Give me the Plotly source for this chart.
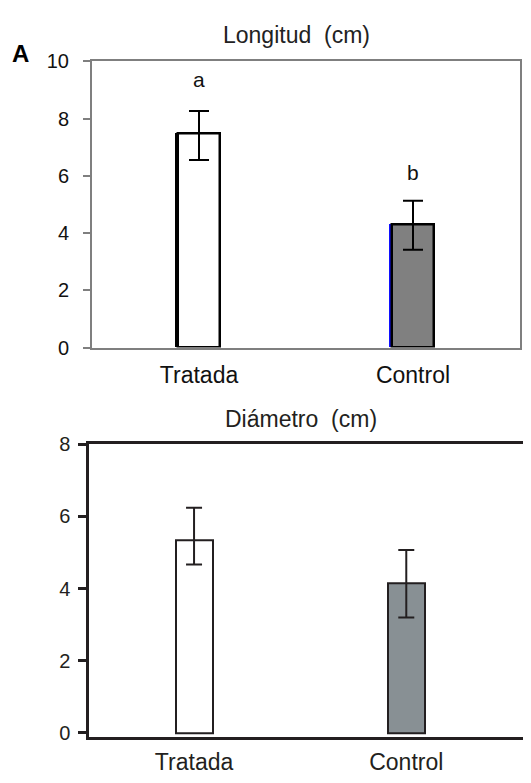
import plotly.graph_objects as go

categories = ["Tratada", "Control"]

# Longitud (cm)
long_vals = [7.47, 4.31]
long_err_plus = [0.80, 0.82]
long_err_minus = [0.92, 0.89]
long_letters = ["a", "b"]
long_letter_y = [9.36, 6.13]

# Diámetro (cm)
diam_vals = [5.35, 4.15]
diam_err_plus = [0.89, 0.92]
diam_err_minus = [0.68, 0.95]

# page is 531x783; the html body has an 8px margin, so the figure is 16px smaller
OFF = 8
W, H = 531 - 2 * OFF, 783 - 2 * OFF
FONT = "Liberation Sans, Arial, sans-serif"


def px(x):
    return (x - OFF) / W


def py(y):
    return 1 - (y - OFF) / H


fig = go.Figure()

# shadow edges (thick black left edge on Tratada, blue left edge on Control)
fig.add_trace(go.Bar(
    x=categories, y=long_vals, width=0.2, offset=-0.112,
    marker=dict(color=["#000000", "#1010ff"], line=dict(width=0)),
    xaxis="x", yaxis="y", showlegend=False, hoverinfo="skip",
))

fig.add_trace(go.Bar(
    x=categories, y=long_vals, width=0.2, offset=-0.1,
    marker=dict(color=["#ffffff", "#808080"], line=dict(color="#000000", width=2.5)),
    error_y=dict(type="data", symmetric=False, array=long_err_plus, arrayminus=long_err_minus,
                 color="#000000", thickness=2, width=10),
    xaxis="x", yaxis="y", showlegend=False,
))

fig.add_trace(go.Bar(
    x=categories, y=diam_vals, width=0.174,
    marker=dict(color=["#ffffff", "#889094"], line=dict(color="#231f20", width=2)),
    error_y=dict(type="data", symmetric=False, array=diam_err_plus, arrayminus=diam_err_minus,
                 color="#231f20", thickness=2, width=8),
    xaxis="x2", yaxis="y2", showlegend=False,
))

for c, t, yv in zip(categories, long_letters, long_letter_y):
    fig.add_annotation(x=c, y=yv, xref="x", yref="y", text=t, showarrow=False,
                       xanchor="center", yanchor="middle",
                       font=dict(family=FONT, size=21, color="#111111"))

fig.add_annotation(x=px(296), y=py(25), xref="paper", yref="paper", text="Longitud  (cm)",
                   showarrow=False, xanchor="center", yanchor="middle",
                   font=dict(family=FONT, size=23, color="#222222"))
fig.add_annotation(x=px(301), y=py(423), xref="paper", yref="paper", text="Diámetro  (cm)",
                   showarrow=False, xanchor="center", yanchor="middle",
                   font=dict(family=FONT, size=23, color="#231f20"))
fig.add_annotation(x=px(20), y=py(44), xref="paper", yref="paper", text="<b>A</b>",
                   showarrow=False, xanchor="center", yanchor="middle",
                   font=dict(family=FONT, size=24, color="#000000"))

gray = "#7f7f7f"
dark = "#231f20"

fig.update_layout(
    width=W, height=H, margin=dict(l=0, r=0, t=0, b=0),
    paper_bgcolor="white", plot_bgcolor="white",
    bargap=0, barmode="overlay",
    font=dict(family=FONT, color="#111111"),
    xaxis=dict(domain=[px(92), px(520)], anchor="y", type="category", range=[-0.5, 1.5],
               showline=True, linecolor=gray, linewidth=2, mirror=True, ticks="",
               showgrid=False, zeroline=False,
               tickfont=dict(family=FONT, size=23, color="#111111"), ticklabelstandoff=6),
    yaxis=dict(domain=[py(349), py(52)], anchor="x", range=[0, 10],
               tickvals=[0, 2, 4, 6, 8, 10], showline=True, linecolor=gray, linewidth=2,
               mirror=True, ticks="outside", ticklen=7, tickwidth=1.5, tickcolor=gray,
               showgrid=False, zeroline=False,
               tickfont=dict(family=FONT, size=20, color="#111111"), ticklabelstandoff=10),
    xaxis2=dict(domain=[px(89), 1.0], anchor="y2", type="category", range=[-0.495, 1.55],
                showline=True, linecolor=dark, linewidth=2.5, mirror=True, ticks="",
                showgrid=False, zeroline=False,
                tickfont=dict(family=FONT, size=23, color=dark), ticklabelstandoff=3),
    yaxis2=dict(domain=[py(752.75), py(449.3)], anchor="x2", range=[-0.1, 8],
                tickvals=[0, 2, 4, 6, 8], showline=True, linecolor=dark, linewidth=2.5,
                mirror=False, ticks="outside", ticklen=8, tickwidth=2.5, tickcolor=dark,
                showgrid=False, zeroline=False,
                tickfont=dict(family=FONT, size=20, color=dark), ticklabelstandoff=4),
)

fig.write_html("out.html")
